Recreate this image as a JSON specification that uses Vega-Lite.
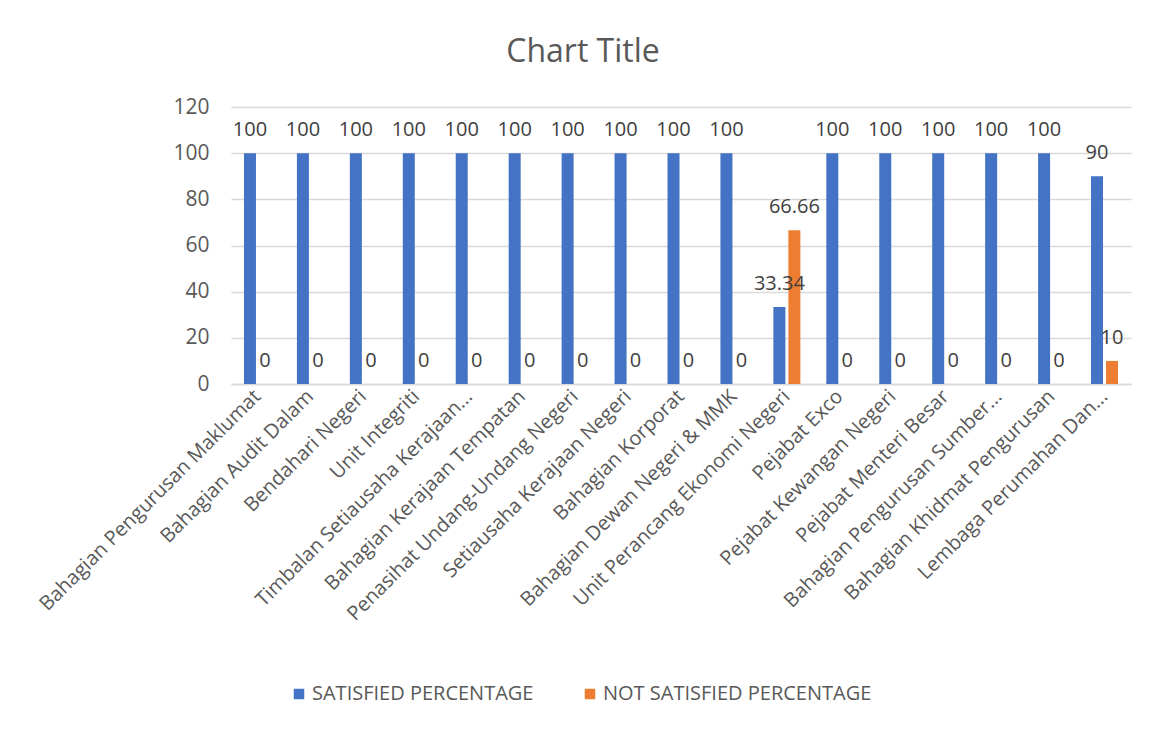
{
  "$schema": "https://vega.github.io/schema/vega-lite/v6.json",
  "autosize": "none",
  "width": 900,
  "height": 277,
  "padding": {"left": 231, "top": 107, "right": 27, "bottom": 347},
  "background": "white",
  "title": {
    "text": "Chart Title",
    "anchor": "middle",
    "dx": -98,
    "offset": 27,
    "fontSize": 32,
    "font": "Open Sans",
    "fontWeight": "normal",
    "color": "#595959"
  },
  "data": {
    "values": [
      {"unit": "Bahagian Pengurusan Maklumat", "series": "SATISFIED PERCENTAGE", "value": 100},
      {"unit": "Bahagian Pengurusan Maklumat", "series": "NOT SATISFIED PERCENTAGE", "value": 0},
      {"unit": "Bahagian Audit Dalam", "series": "SATISFIED PERCENTAGE", "value": 100},
      {"unit": "Bahagian Audit Dalam", "series": "NOT SATISFIED PERCENTAGE", "value": 0},
      {"unit": "Bendahari Negeri", "series": "SATISFIED PERCENTAGE", "value": 100},
      {"unit": "Bendahari Negeri", "series": "NOT SATISFIED PERCENTAGE", "value": 0},
      {"unit": "Unit Integriti", "series": "SATISFIED PERCENTAGE", "value": 100},
      {"unit": "Unit Integriti", "series": "NOT SATISFIED PERCENTAGE", "value": 0},
      {"unit": "Timbalan Setiausaha Kerajaan...", "series": "SATISFIED PERCENTAGE", "value": 100},
      {"unit": "Timbalan Setiausaha Kerajaan...", "series": "NOT SATISFIED PERCENTAGE", "value": 0},
      {"unit": "Bahagian Kerajaan Tempatan", "series": "SATISFIED PERCENTAGE", "value": 100},
      {"unit": "Bahagian Kerajaan Tempatan", "series": "NOT SATISFIED PERCENTAGE", "value": 0},
      {"unit": "Penasihat Undang-Undang Negeri", "series": "SATISFIED PERCENTAGE", "value": 100},
      {"unit": "Penasihat Undang-Undang Negeri", "series": "NOT SATISFIED PERCENTAGE", "value": 0},
      {"unit": "Setiausaha Kerajaan Negeri", "series": "SATISFIED PERCENTAGE", "value": 100},
      {"unit": "Setiausaha Kerajaan Negeri", "series": "NOT SATISFIED PERCENTAGE", "value": 0},
      {"unit": "Bahagian Korporat", "series": "SATISFIED PERCENTAGE", "value": 100},
      {"unit": "Bahagian Korporat", "series": "NOT SATISFIED PERCENTAGE", "value": 0},
      {"unit": "Bahagian Dewan Negeri & MMK", "series": "SATISFIED PERCENTAGE", "value": 100},
      {"unit": "Bahagian Dewan Negeri & MMK", "series": "NOT SATISFIED PERCENTAGE", "value": 0},
      {"unit": "Unit Perancang Ekonomi Negeri", "series": "SATISFIED PERCENTAGE", "value": 33.34},
      {"unit": "Unit Perancang Ekonomi Negeri", "series": "NOT SATISFIED PERCENTAGE", "value": 66.66},
      {"unit": "Pejabat Exco", "series": "SATISFIED PERCENTAGE", "value": 100},
      {"unit": "Pejabat Exco", "series": "NOT SATISFIED PERCENTAGE", "value": 0},
      {"unit": "Pejabat Kewangan Negeri", "series": "SATISFIED PERCENTAGE", "value": 100},
      {"unit": "Pejabat Kewangan Negeri", "series": "NOT SATISFIED PERCENTAGE", "value": 0},
      {"unit": "Pejabat Menteri Besar", "series": "SATISFIED PERCENTAGE", "value": 100},
      {"unit": "Pejabat Menteri Besar", "series": "NOT SATISFIED PERCENTAGE", "value": 0},
      {"unit": "Bahagian Pengurusan Sumber...", "series": "SATISFIED PERCENTAGE", "value": 100},
      {"unit": "Bahagian Pengurusan Sumber...", "series": "NOT SATISFIED PERCENTAGE", "value": 0},
      {"unit": "Bahagian Khidmat Pengurusan", "series": "SATISFIED PERCENTAGE", "value": 100},
      {"unit": "Bahagian Khidmat Pengurusan", "series": "NOT SATISFIED PERCENTAGE", "value": 0},
      {"unit": "Lembaga Perumahan Dan...", "series": "SATISFIED PERCENTAGE", "value": 90},
      {"unit": "Lembaga Perumahan Dan...", "series": "NOT SATISFIED PERCENTAGE", "value": 10}
    ]
  },
  "encoding": {
    "x": {
      "field": "unit",
      "type": "nominal",
      "sort": null,
      "scale": {"paddingInner": 0.49, "paddingOuter": 0.245},
      "axis": {
        "title": null,
        "labelAngle": -45,
        "labelAlign": "right",
        "labelBaseline": "middle",
        "labelFont": "Open Sans",
        "labelFontSize": 20,
        "labelColor": "#595959",
        "labelPadding": 9,
        "labelLimit": 450,
        "ticks": false,
        "domainColor": "#d9d9d9",
        "domainWidth": 1.5
      }
    },
    "xOffset": {
      "field": "series",
      "type": "nominal",
      "sort": ["SATISFIED PERCENTAGE", "NOT SATISFIED PERCENTAGE"],
      "scale": {"paddingInner": 0.2, "paddingOuter": 0}
    },
    "y": {
      "field": "value",
      "type": "quantitative",
      "scale": {"domain": [0, 120]},
      "axis": {
        "title": null,
        "values": [0, 20, 40, 60, 80, 100, 120],
        "domain": false,
        "ticks": false,
        "labelFont": "Open Sans",
        "labelFontSize": 21,
        "labelColor": "#595959",
        "labelPadding": 22,
        "gridColor": "#d9d9d9",
        "gridWidth": 1.5
      }
    }
  },
  "layer": [
    {
      "mark": {"type": "bar"},
      "encoding": {
        "color": {
          "field": "series",
          "type": "nominal",
          "sort": ["SATISFIED PERCENTAGE", "NOT SATISFIED PERCENTAGE"],
          "scale": {"domain": ["SATISFIED PERCENTAGE", "NOT SATISFIED PERCENTAGE"], "range": ["#4472C4", "#ED7D31"]},
          "legend": {
            "title": null,
            "orient": "none",
            "direction": "horizontal",
            "legendX": 58,
            "legendY": 577,
            "symbolType": "square",
            "symbolSize": 110,
            "symbolStrokeWidth": 0,
            "labelFont": "Open Sans",
            "labelFontSize": 20,
            "labelColor": "#595959",
            "labelLimit": 450,
            "columnPadding": 46,
            "labelOffset": 3
          }
        }
      }
    },
    {
      "mark": {"type": "text", "baseline": "alphabetic", "dy": -17, "font": "Open Sans", "fontSize": 20, "color": "#404040"},
      "encoding": {
        "text": {"field": "value", "type": "quantitative"}
      }
    }
  ],
  "config": {
    "view": {"stroke": null}
  }
}
